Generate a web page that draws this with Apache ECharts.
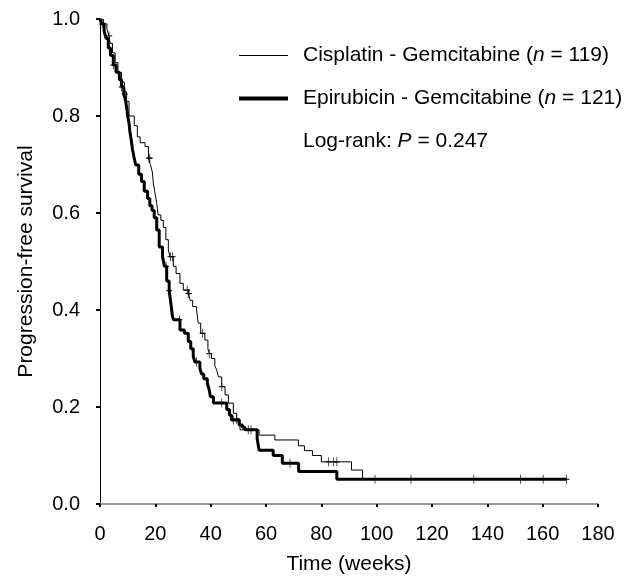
<!DOCTYPE html>
<html>
<head>
<meta charset="utf-8">
<script src="https://cdn.jsdelivr.net/npm/echarts@6/dist/echarts.min.js"></script>
<style>html,body{margin:0;padding:0;background:#fff;}#c{width:637px;height:577px;}</style>
</head>
<body>
<div id="c"></div>
<script>
// Kaplan-Meier curves: [time (weeks), survival after event]
var cisplatinCurve = [[0,1.0],[1.2,0.99],[2.5,0.98],[3.2,0.965],[3.7,0.95],[4.5,0.93],[5.5,0.91],[6.5,0.89],[7.8,0.87],[8.8,0.85],[9.6,0.83],[10.5,0.80],[12.4,0.78],[13.5,0.757],[14.5,0.745],[16.3,0.737],[17.5,0.713],[18.2,0.70],[18.9,0.685],[19.3,0.66],[19.8,0.644],[20.5,0.62],[21.0,0.596],[22.0,0.585],[22.9,0.57],[23.8,0.545],[24.7,0.524],[25.3,0.51],[26.5,0.49],[27.5,0.475],[28.9,0.455],[30.1,0.441],[31.9,0.434],[32.6,0.42],[33.5,0.407],[34.9,0.40],[35.5,0.373],[36.4,0.352],[37.9,0.338],[39.0,0.32],[39.5,0.31],[40.3,0.30],[41.5,0.285],[42.2,0.276],[42.8,0.262],[44.0,0.242],[45.2,0.225],[46.4,0.208],[48.2,0.187],[49.4,0.175],[50.6,0.153],[57.5,0.142],[63.2,0.132],[71.7,0.12],[73.9,0.11],[76.8,0.10],[80.0,0.087],[90.9,0.07],[94.9,0.051],[168.6,0.051]];
var epirubicinCurve = [[0,1.0],[0.6,0.99],[1.5,0.975],[2.2,0.96],[3.0,0.94],[3.8,0.925],[4.8,0.905],[5.8,0.89],[7.0,0.875],[7.8,0.86],[8.6,0.845],[9.3,0.83],[9.7,0.815],[10.0,0.80],[10.5,0.785],[10.8,0.768],[11.3,0.75],[11.7,0.733],[12.3,0.715],[12.9,0.699],[14.0,0.68],[15.0,0.665],[16.0,0.645],[17.2,0.63],[18.0,0.615],[18.8,0.605],[19.6,0.59],[20.5,0.565],[21.4,0.53],[22.6,0.51],[23.3,0.49],[24.1,0.46],[25.0,0.44],[25.7,0.41],[26.2,0.386],[26.6,0.38],[28.9,0.359],[30.5,0.352],[31.9,0.335],[32.8,0.32],[33.7,0.304],[34.3,0.293],[36.1,0.28],[36.7,0.268],[37.5,0.258],[38.8,0.249],[39.5,0.235],[39.9,0.221],[41.0,0.208],[45.8,0.195],[46.8,0.183],[47.6,0.173],[50.3,0.163],[51.5,0.158],[52.4,0.153],[56.8,0.135],[57.5,0.111],[62.6,0.1],[65.9,0.084],[71.8,0.067],[85.6,0.051],[168.6,0.051]];
// censoring times (weeks)
var cisplatinCensored = [3.3,17.7,18.0,25.5,26.2,31.5,31.9,32.2,37.1,39.5,44.0,49.4,82.6,84.4,85.6];
var epirubicinCensored = [0.8,4.8,7.8,9.0,23.9,25.0,28.7,34.9,44.0,48.2,53.6,54.6,68.7,99.4,112.4,135.1,152.0,160.2,168.6];
var xTicks = [0,20,40,60,80,100,120,140,160,180];
var yTicks = [0.0,0.2,0.4,0.6,0.8,1.0];
var seriesNames = ['Cisplatin - Gemcitabine', 'Epirubicin - Gemcitabine'];
var seriesN = [119, 121];
var pValue = '0.247';

function survAt(curve, t) {
  var s = curve[0][1];
  for (var i = 0; i < curve.length; i++) { if (curve[i][0] <= t) s = curve[i][1]; }
  return s;
}
function censorPts(curve, times) { return times.map(function (t) { return [t, survAt(curve, t)]; }); }

var FONT = "'Liberation Sans', Arial, sans-serif";
var censorSymbol = 'path://M0,5L6,5M3,0L3,10';
var rich = {
  a: { fontSize: 21, fontFamily: FONT, color: '#000', fontWeight: 'normal' },
  p: { fontSize: 21, fontFamily: FONT, color: '#000', fontWeight: 'normal', padding: [0, 0, 0, 10] },
  i: { fontSize: 21, fontFamily: FONT, color: '#000', fontWeight: 'normal', fontStyle: 'italic' }
};
function legendFmt(idx) {
  return function () { return '{p|' + seriesNames[idx] + ' (}{i|n}{a| = ' + seriesN[idx] + ')}'; };
}

var chart = echarts.init(document.getElementById('c'), null, { renderer: 'canvas' });
chart.setOption({
  animation: false,
  backgroundColor: '#fff',
  grid: { left: 100, right: 39, top: 19, bottom: 73, containLabel: false, outerBoundsMode: 'none' },
  title: {
    text: '{a|Log-rank: }{i|P}{a| = ' + pValue + '}',
    left: 303, top: 131, padding: 0,
    textStyle: { fontWeight: 'normal', rich: rich }
  },
  legend: [
    { data: [seriesNames[0]], left: 239, top: 45, padding: 0, icon: 'rect', itemWidth: 49, itemHeight: 1,
      formatter: legendFmt(0), textStyle: { rich: rich }, itemStyle: { color: '#000' } },
    { data: [seriesNames[1]], left: 239, top: 88, padding: 0, icon: 'rect', itemWidth: 49, itemHeight: 4,
      formatter: legendFmt(1), textStyle: { rich: rich }, itemStyle: { color: '#000' } }
  ],
  xAxis: {
    type: 'value', min: 0, max: 180, interval: 20,
    name: 'Time (weeks)', nameLocation: 'middle', nameGap: 50,
    nameTextStyle: { fontSize: 21, fontFamily: FONT, color: '#000' },
    axisLine: { lineStyle: { color: '#777', width: 1.5 } },
    axisTick: { show: true, length: 3, lineStyle: { color: '#000', width: 2 } },
    axisLabel: { fontSize: 20, fontFamily: FONT, color: '#000', margin: 20,
      formatter: function (v) { return xTicks.indexOf(v) >= 0 ? String(v) : ''; } },
    splitLine: { show: false }
  },
  yAxis: {
    type: 'value', min: 0, max: 1, interval: 0.2,
    name: 'Progression-free survival', nameLocation: 'middle', nameGap: 63, nameRotate: 90,
    nameTextStyle: { fontSize: 21, fontFamily: FONT, color: '#000' },
    axisLine: { show: true, lineStyle: { color: '#000', width: 1 } },
    axisTick: { show: true, length: 4, lineStyle: { color: '#000', width: 2 } },
    axisLabel: { fontSize: 20, fontFamily: FONT, color: '#000', margin: 20,
      formatter: function (v) {
        for (var k = 0; k < yTicks.length; k++) { if (Math.abs(yTicks[k] - v) < 1e-9) return yTicks[k].toFixed(1); }
        return '';
      } },
    splitLine: { show: false }
  },
  series: [
    { name: seriesNames[0], type: 'line', step: 'end', data: cisplatinCurve, showSymbol: false,
      color: '#000', lineStyle: { color: '#000', width: 1 }, z: 3 },
    { name: seriesNames[1], type: 'line', step: 'end', data: epirubicinCurve, showSymbol: false,
      color: '#000', lineStyle: { color: '#000', width: 3 }, z: 2 },
    { name: 'cis-censor', type: 'scatter', data: censorPts(cisplatinCurve, cisplatinCensored),
      symbol: censorSymbol, symbolSize: [6, 9],
      itemStyle: { color: 'rgba(0,0,0,0)', borderColor: '#000', borderWidth: 1 }, z: 4 },
    { name: 'epi-censor', type: 'scatter', data: censorPts(epirubicinCurve, epirubicinCensored),
      symbol: censorSymbol, symbolSize: [6, 9],
      itemStyle: { color: 'rgba(0,0,0,0)', borderColor: '#000', borderWidth: 1 }, z: 4 }
  ]
});
</script>
</body>
</html>
